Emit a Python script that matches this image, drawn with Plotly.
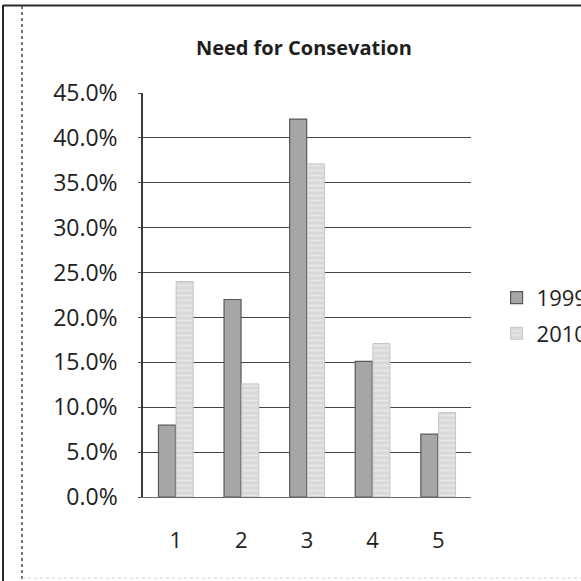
import plotly.graph_objects as go

# Survey responses by rating, share of respondents
categories = ["1", "2", "3", "4", "5"]
share_1999 = [0.080, 0.220, 0.421, 0.151, 0.070]
share_2010 = [0.240, 0.126, 0.371, 0.171, 0.094]
series_names = ["1999", "2010"]
y_ticks = [0.0, 0.05, 0.10, 0.15, 0.20, 0.25, 0.30, 0.35, 0.40, 0.45]

FONT = "Open Sans"

fig = go.Figure()
fig.add_trace(go.Bar(
    x=categories, y=share_1999, name=series_names[0],
    marker=dict(color="#a6a6a6", line=dict(color="#585858", width=1.2)),
    legendgroup="a",
))
fig.add_trace(go.Bar(
    x=categories, y=share_2010, name=series_names[1],
    marker=dict(
        color="#dedede",
        line=dict(color="#c4c4c4", width=1),
        pattern=dict(shape="-", fgcolor="#f6f6f6", bgcolor="#d9d9d9",
                     size=5, solidity=0.35),
    ),
    legendgroup="b",
))

fig.update_layout(
    width=581, height=581,
    margin=dict(l=143, r=110, t=93, b=84, autoexpand=False),
    paper_bgcolor="white", plot_bgcolor="white",
    barmode="group", bargap=0.46, bargroupgap=0.04,
    font=dict(family=FONT, color="#222222", size=22),
    title=dict(text="<b>Need for Consevation</b>", x=0.523, xanchor="center",
               y=1 - 48 / 581, yanchor="middle",
               font=dict(family=FONT, size=20, color="#1e1e1e")),
    legend=dict(x=1.078, xanchor="left", y=0.545, yanchor="top",
                tracegroupgap=4, bgcolor="rgba(0,0,0,0)",
                font=dict(family=FONT, size=22, color="#222222")),
    showlegend=True,
)
fig.update_xaxes(showgrid=False, showline=True, linecolor="#6a6a6a",
                 linewidth=1, ticks="", ticklabelstandoff=24,
                 tickfont=dict(size=22))
fig.update_yaxes(range=[0, 0.45], tickvals=y_ticks, tickformat=".1%",
                 showgrid=True, gridcolor="#444444", gridwidth=1,
                 showline=True, linecolor="#3a3a3a", linewidth=1.5,
                 ticks="outside", ticklen=3, tickcolor="#4a4a4a",
                 ticklabelstandoff=16, zeroline=False,
                 tickfont=dict(size=23))

# outer frame of the page
frame = dict(xref="paper", yref="paper", type="line")
x_px = lambda px: (px - 143) / 328
y_px = lambda py: (497 - py) / 404
fig.add_shape(**frame, x0=x_px(3), x1=x_px(3), y0=y_px(5), y1=y_px(581),
              line=dict(color="#2a2a2a", width=2))
fig.add_shape(**frame, x0=x_px(3), x1=x_px(581), y0=y_px(5.5), y1=y_px(5.5),
              line=dict(color="#2a2a2a", width=2))
fig.add_shape(**frame, x0=x_px(22), x1=x_px(22), y0=y_px(6), y1=y_px(581),
              line=dict(color="#444444", width=1.5, dash="dot"))
fig.add_shape(**frame, x0=x_px(22), x1=x_px(581), y0=y_px(578), y1=y_px(578),
              line=dict(color="#cfcfcf", width=1, dash="dot"))

fig.write_html("out.html")
